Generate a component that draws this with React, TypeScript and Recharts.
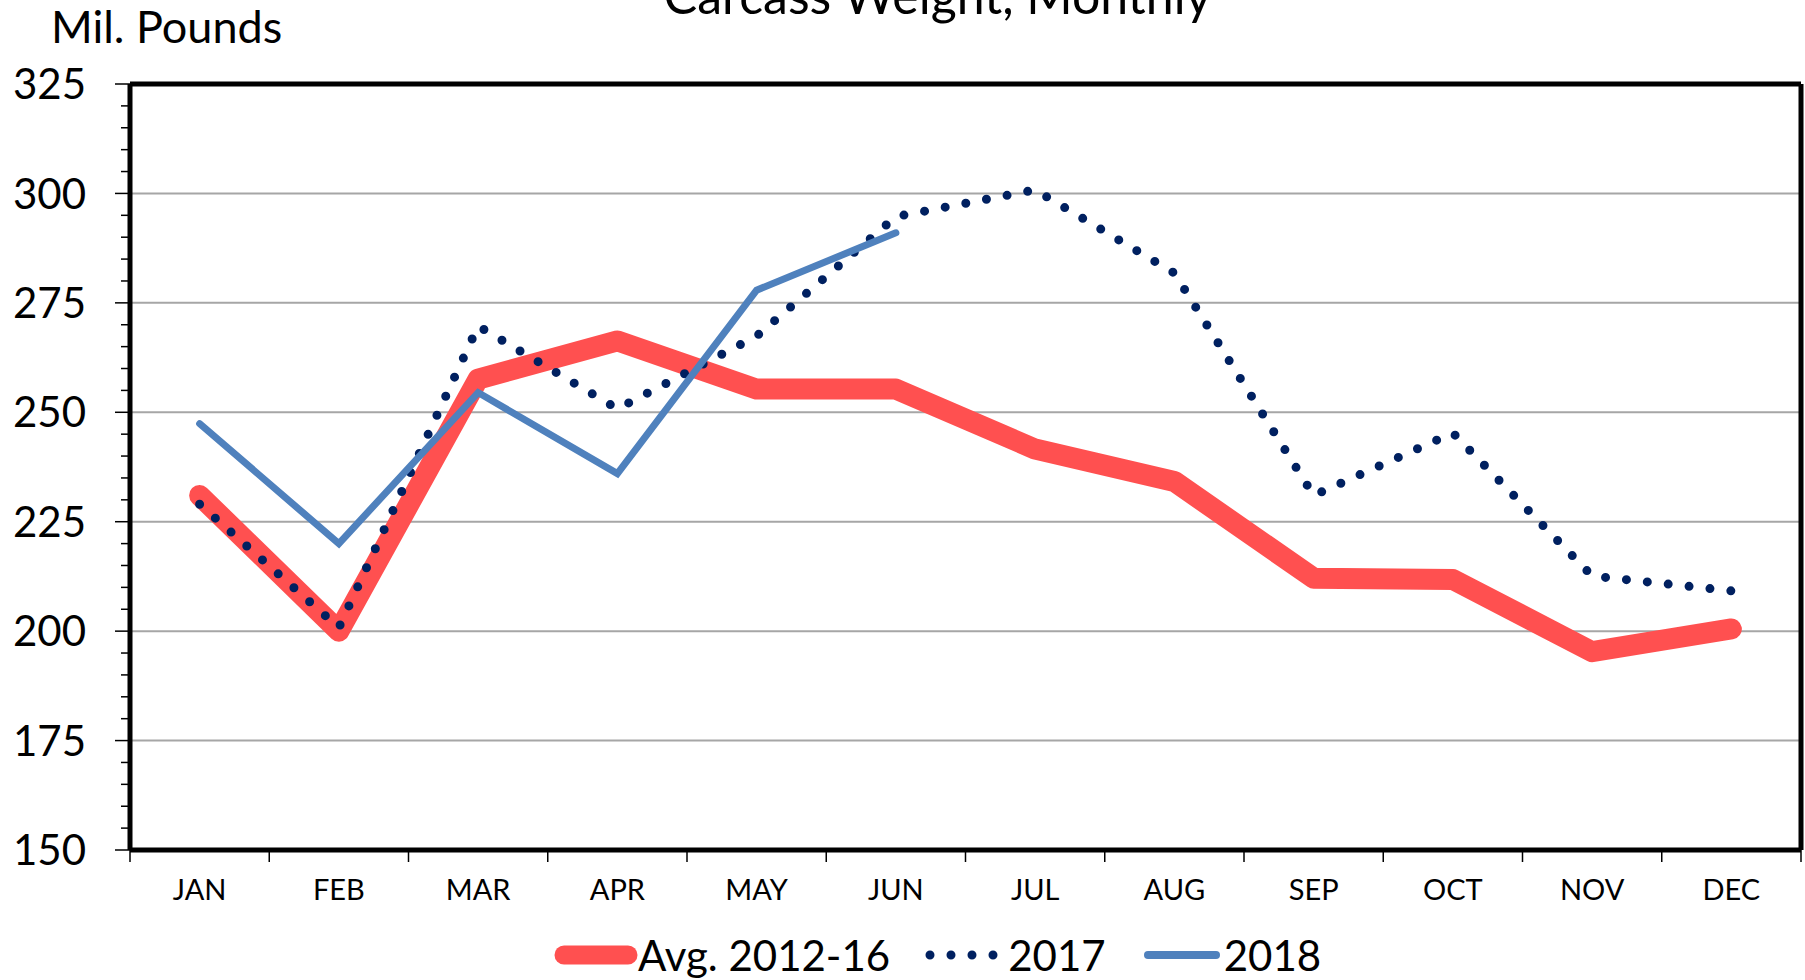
import { ComposedChart, Line, XAxis, YAxis, CartesianGrid } from 'recharts'

const months = ['JAN', 'FEB', 'MAR', 'APR', 'MAY', 'JUN', 'JUL', 'AUG', 'SEP', 'OCT', 'NOV', 'DEC']
const avg2012to16 = [231, 200, 257.6, 266.3, 255.3, 255.3, 241.6, 234.2, 212.1, 211.8, 195.3, 200.5]
const y2017 = [229, 200.8, 269.7, 250.8, 267.4, 294.7, 300.8, 281.8, 231, 245.3, 212.6, 209.2]
const y2018 = [247.4, 220, 254.5, 236, 277.9, 291, null, null, null, null, null, null]

const majorTicks = [150, 175, 200, 225, 250, 275, 300, 325]
const allTicks: number[] = []
for (let v = 150; v <= 325; v += 5) allTicks.push(v)

const data = months.map((m, i) => ({
  month: m,
  avg: avg2012to16[i],
  y2017: y2017[i],
  y2018: y2018[i],
}))

const W = 1805
const H = 980
const PLOT_LEFT = 130
const PLOT_RIGHT = 4
const BAND = (W - PLOT_LEFT - PLOT_RIGHT) / months.length
const FONT = 'Lato, "Open Sans", sans-serif'

const RED = '#FF5050'
const NAVY = '#002060'
const BLUE = '#4F81BD'
const BORDER = { stroke: '#000', strokeWidth: 5 }

function YTick(props: any) {
  const { x, y, payload } = props
  const major = majorTicks.includes(payload.value)
  return (
    <g>
      <line x1={x - (major ? 15 : 9)} x2={x} y1={y} y2={y} stroke="#000" strokeWidth={1.5} />
      {major && (
        <text x={x - 44} y={y} dy="0.36em" textAnchor="end" fontSize={42} fontFamily={FONT} fill="#000">
          {payload.value}
        </text>
      )}
    </g>
  )
}

function XTick(props: any) {
  const { x, y, payload, index } = props
  return (
    <g>
      <line x1={x - BAND / 2} x2={x - BAND / 2} y1={y} y2={y + 12} stroke="#000" strokeWidth={1.5} />
      {index === months.length - 1 && (
        <line x1={x + BAND / 2} x2={x + BAND / 2} y1={y} y2={y + 12} stroke="#000" strokeWidth={1.5} />
      )}
      <text x={x} y={y + 40} dy="0.36em" textAnchor="middle" fontSize={29} fontFamily={FONT} fill="#000">
        {payload.value}
      </text>
    </g>
  )
}

function LegendItem({ label, kind }: { label: string; kind: 'avg' | 'y2017' | 'y2018' }) {
  return (
    <div style={{ display: 'flex', alignItems: 'center' }}>
      <svg width={84} height={24}>
        {kind === 'avg' && (
          <line x1={10} x2={74} y1={12} y2={12} stroke={RED} strokeWidth={19} strokeLinecap="round" />
        )}
        {kind === 'y2017' && (
          <line x1={6} x2={80} y1={12} y2={12} stroke={NAVY} strokeWidth={9} strokeLinecap="round" strokeDasharray="0 21" />
        )}
        {kind === 'y2018' && (
          <line x1={8} x2={76} y1={12} y2={12} stroke={BLUE} strokeWidth={8} strokeLinecap="round" />
        )}
      </svg>
      <span style={{ fontSize: 42, lineHeight: 1, color: '#000' }}>{label}</span>
    </div>
  )
}

export default function App() {
  return (
    <div style={{ position: 'absolute', left: 0, top: 0, width: W, height: H, background: '#fff', fontFamily: FONT, overflow: 'hidden' }}>
      <div style={{ position: 'absolute', left: 0, width: 1875, top: -30, textAlign: 'center', fontSize: 50, lineHeight: 1 }}>
        Carcass Weight, Monthly
      </div>
      <div style={{ position: 'absolute', left: 51, top: 4, fontSize: 45, lineHeight: 1 }}>Mil. Pounds</div>

      <ComposedChart
        width={W}
        height={H}
        data={data}
        margin={{ top: 83, right: PLOT_RIGHT - 1, bottom: 0, left: 0 }}
      >
        <CartesianGrid horizontal vertical={false} horizontalValues={[175, 200, 225, 250, 275, 300]} stroke="#A6A6A6" strokeWidth={2} />
        <XAxis
          dataKey="month"
          scale="band"
          height={130}
          interval={0}
          tickSize={0}
          tickMargin={0}
          tickLine={false}
          axisLine={BORDER}
          tick={<XTick />}
        />
        <XAxis xAxisId="top" dataKey="month" scale="band" orientation="top" height={1} tick={false} tickLine={false} axisLine={BORDER} />
        <YAxis
          type="number"
          domain={[150, 325]}
          ticks={allTicks}
          interval={0}
          width={PLOT_LEFT}
          tickSize={0}
          tickMargin={0}
          tickLine={false}
          axisLine={BORDER}
          tick={<YTick />}
        />
        <YAxis yAxisId="right" orientation="right" type="number" domain={[150, 325]} width={1} tick={false} tickLine={false} axisLine={BORDER} />
        <Line
          dataKey="avg"
          stroke={RED}
          strokeWidth={21}
          strokeLinecap="round"
          strokeLinejoin="round"
          dot={false}
          activeDot={false}
          isAnimationActive={false}
          type="linear"
        />
        <Line
          dataKey="y2017"
          stroke={NAVY}
          strokeWidth={9}
          strokeLinecap="round"
          strokeDasharray="0 21"
          dot={false}
          activeDot={false}
          isAnimationActive={false}
          type="linear"
        />
        <Line
          dataKey="y2018"
          stroke={BLUE}
          strokeWidth={7}
          strokeLinecap="round"
          dot={false}
          activeDot={false}
          connectNulls={false}
          isAnimationActive={false}
          type="linear"
        />
      </ComposedChart>

      <div style={{ position: 'absolute', left: 554, top: 934, display: 'flex', alignItems: 'center', gap: 34 }}>
        <LegendItem label="Avg. 2012-16" kind="avg" />
        <LegendItem label="2017" kind="y2017" />
        <LegendItem label="2018" kind="y2018" />
      </div>
    </div>
  )
}
